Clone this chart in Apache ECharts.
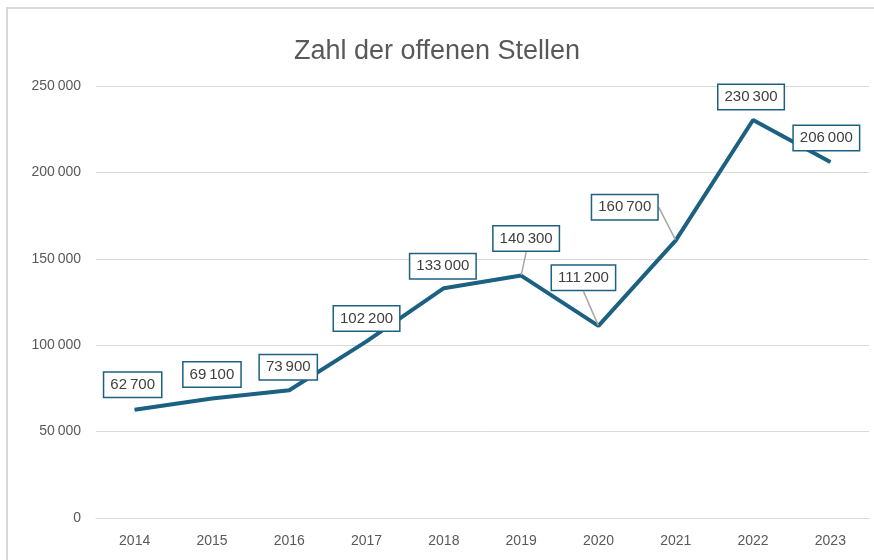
<!DOCTYPE html>
<html>
<head>
<meta charset="utf-8">
<script src="https://cdn.jsdelivr.net/npm/echarts@6/dist/echarts.min.js"></script>
<style>
  html, body { margin: 0; padding: 0; background: #fff; }
  #chart { width: 874px; height: 560px; }
</style>
</head>
<body>
<div id="chart"></div>
<script>
// Daten
const jahre = ['2014', '2015', '2016', '2017', '2018', '2019', '2020', '2021', '2022', '2023']
const stellen = [62700, 69100, 73900, 102200, 133000, 140300, 111200, 160700, 230300, 206000]
const yTicks = [0, 50000, 100000, 150000, 200000, 250000]

// label shifts (px) from the point, and which get a leader line
const labelShift = [[-2, -25], [0, -24], [-1, -23], [0, -23], [-1, -22], [5, -37], [-15, -48], [-51, -33], [-2, -23], [-4, -24]]
const withLeader = [5, 6, 7]

const fmt = v => String(v).replace(/\B(?=(\d{3})+(?!\d))/g, '\u2009')
const textColor = '#595959'
const lineColor = '#1c6181'

let myChart = echarts.init(document.getElementById('chart'))
let option = {
  animation: false,
  textStyle: { fontFamily: 'Liberation Sans, Arial, sans-serif' },
  title: {
    text: 'Zahl der offenen Stellen',
    left: 'center',
    top: 33,
    textStyle: { color: textColor, fontSize: 27, fontWeight: 'normal' }
  },
  graphic: [{
    type: 'rect',
    shape: { x: 7, y: 8, width: 1000, height: 1000 },
    style: { fill: 'none', stroke: '#d9d9d9', lineWidth: 2 },
    silent: true
  }],
  grid: { left: 96, right: 5, top: 86, bottom: 42 },
  xAxis: {
    type: 'category',
    data: jahre,
    axisTick: { show: false },
    axisLine: { lineStyle: { color: '#d9d9d9', width: 1 } },
    axisLabel: { color: textColor, fontSize: 14, margin: 16 }
  },
  yAxis: {
    type: 'value',
    min: yTicks[0],
    max: yTicks[yTicks.length - 1],
    interval: 50000,
    axisLine: { show: false },
    axisTick: { show: false },
    splitLine: { lineStyle: { color: '#d9d9d9', width: 1 } },
    axisLabel: { color: textColor, fontSize: 14, margin: 15, formatter: v => fmt(v) }
  },
  series: [{
    type: 'line',
    data: stellen.map((v, i) => ({
      value: v,
      labelLine: { show: withLeader.indexOf(i) >= 0 }
    })),
    symbol: 'circle',
    symbolSize: 1,
    showSymbol: true,
    itemStyle: { color: lineColor },
    lineStyle: { color: lineColor, width: 4 },
    label: {
      show: true,
      position: 'inside',
      color: '#404040',
      fontSize: 15,
      backgroundColor: '#fff',
      borderColor: lineColor,
      borderWidth: 1.5,
      padding: [5, 6, 4, 6],
      formatter: p => fmt(p.value)
    },
    labelLine: {
      show: false,
      lineStyle: { color: '#a6a6a6', width: 1.5 }
    },
    labelLayout: params => ({
      dx: labelShift[params.dataIndex][0],
      dy: labelShift[params.dataIndex][1]
    }),
    z: 3
  }]
}
myChart.setOption(option, true)
</script>
</body>
</html>
